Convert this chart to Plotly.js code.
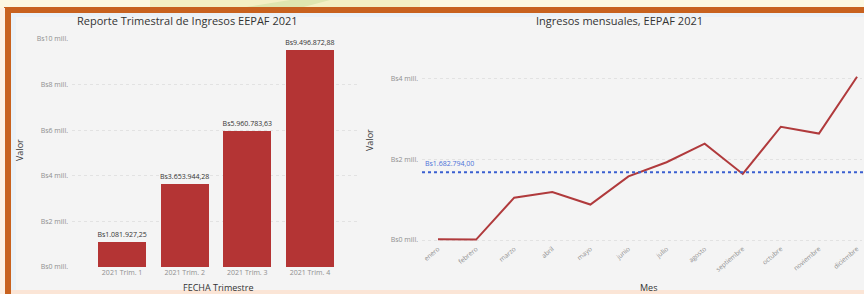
<!DOCTYPE html>
<html><head><meta charset="utf-8">
<script src="https://cdn.plot.ly/plotly-3.0.1.min.js"></script>
<style>html,body{margin:0;padding:0;background:#f4f4f4}#c{width:864px;height:294px}</style>
</head><body><div id="c"></div>
<script>
// ---- data ----
const quarters = ["2021 Trim. 1", "2021 Trim. 2", "2021 Trim. 3", "2021 Trim. 4"];
const quarterValues = [1081927.25, 3653944.28, 5960783.63, 9496872.88];
const quarterLabels = ["Bs1.081.927,25", "Bs3.653.944,28", "Bs5.960.783,63", "Bs9.496.872,88"];

const months = ["enero", "febrero", "marzo", "abril", "mayo", "junio", "julio", "agosto", "septiembre", "octubre", "noviembre", "diciembre"];
const monthValues = [20000, 10000, 1050000, 1190000, 880000, 1580000, 1930000, 2390000, 1640000, 2810000, 2640000, 4050000];

const averageValue = 1682794.00;
const averageLabel = "Bs1.682.794,00";

const leftTickVals = [0, 2000000, 4000000, 6000000, 8000000, 10000000];
const leftTickText = ["Bs0 mill.", "Bs2 mill.", "Bs4 mill.", "Bs6 mill.", "Bs8 mill.", "Bs10 mill."];
const rightTickVals = [0, 2000000, 4000000];
const rightTickText = ["Bs0 mill.", "Bs2 mill.", "Bs4 mill."];

// ---- layout helpers (pixel -> paper) ----
const W = 864, H = 294;
const px = v => v / W;
const py = v => 1 - v / H;

const FAM = "Open Sans, DejaVu Sans, sans-serif";
const tickFont = {family: FAM, size: 7, color: "#8f8f8f"};
const titleFont = {family: FAM, size: 11, color: "#333333"};
const axTitleFont = {family: FAM, size: 9, color: "#333333"};

const traces = [
  {
    type: "bar", x: quarters, y: quarterValues, xaxis: "x", yaxis: "y",
    marker: {color: "#b43434"}, width: 0.77,
    text: quarterLabels, textposition: "outside", constraintext: "none", cliponaxis: false,
    textfont: {family: FAM, size: 7, color: "#333333"},
    hoverinfo: "skip"
  },
  {
    type: "scatter", mode: "lines", x: months, y: monthValues, xaxis: "x2", yaxis: "y2",
    line: {color: "#b03a3c", width: 2}, hoverinfo: "skip"
  }
];

const layout = {
  width: W, height: H,
  margin: {l: 0, r: 0, t: 0, b: 0},
  paper_bgcolor: "#f4f4f4", plot_bgcolor: "rgba(0,0,0,0)",
  showlegend: false,
  bargap: 0,
  xaxis: {
    domain: [px(72), px(360)], range: [-0.8, 3.8], anchor: "y",
    showgrid: false, zeroline: false, showline: false,
    ticks: "", tickfont: tickFont, fixedrange: true
  },
  yaxis: {
    domain: [py(267), py(39)], range: [0, 10000000], anchor: "x",
    tickvals: leftTickVals, ticktext: leftTickText, tickfont: tickFont,
    showgrid: true, gridcolor: "#e2e2e2", griddash: "dot", gridwidth: 1,
    zeroline: false, showline: false, ticks: "", ticklabelstandoff: 3
  },
  xaxis2: {
    domain: [px(422), px(862)], range: [-0.42, 11.13], anchor: "y2",
    showgrid: false, zeroline: false, showline: false,
    ticks: "", tickangle: -40, tickfont: {family: FAM, size: 6.5, color: "#8f8f8f"}
  },
  yaxis2: {
    domain: [py(243), py(30)], range: [-74000, 5210000], anchor: "x2",
    tickvals: rightTickVals, ticktext: rightTickText, tickfont: tickFont,
    showgrid: true, gridcolor: "#e2e2e2", griddash: "dot", gridwidth: 1,
    zeroline: false, showline: false, ticks: "", ticklabelstandoff: 3
  },
  shapes: [
    // top decorative banner
    {type: "rect", xref: "paper", yref: "paper", x0: 0, x1: 1, y0: py(8), y1: 1, fillcolor: "#fcf8e2", line: {width: 0}, layer: "below"},
    {type: "rect", xref: "paper", yref: "paper", x0: px(150), x1: px(420), y0: py(8), y1: 1, fillcolor: "#f4f0c4", line: {width: 0}, layer: "below"},
    {type: "path", xref: "paper", yref: "paper", path: `M ${px(240)} ${py(8)} L ${px(290)} 1 L ${px(330)} 1 L ${px(300)} ${py(8)} Z`, fillcolor: "#dfe6b0", line: {width: 0}, layer: "below"},
    // orange frame
    {type: "rect", xref: "paper", yref: "paper", x0: px(4), x1: 1, y0: py(13), y1: py(7), fillcolor: "#c8621f", line: {width: 0}, layer: "below"},
    {type: "rect", xref: "paper", yref: "paper", x0: px(5), x1: px(11), y0: 0, y1: py(8), fillcolor: "#c8621f", line: {width: 0}, layer: "below"},
    {type: "rect", xref: "paper", yref: "paper", x0: 0, x1: px(5), y0: 0, y1: py(8), fillcolor: "#fdf0e4", line: {width: 0}, layer: "below"},
    // inner light strips
    {type: "rect", xref: "paper", yref: "paper", x0: px(11), x1: 1, y0: py(17), y1: py(13), fillcolor: "#eaf1f7", line: {width: 0}, layer: "below"},
    {type: "rect", xref: "paper", yref: "paper", x0: px(11), x1: px(16), y0: 0, y1: py(13), fillcolor: "#eaf1f7", line: {width: 0}, layer: "below"},
    {type: "rect", xref: "paper", yref: "paper", x0: px(11), x1: 1, y0: 0, y1: py(290), fillcolor: "#fbe5d6", line: {width: 0}, layer: "below"},
    // average reference line
    {type: "line", xref: "paper", yref: "y2", x0: px(422), x1: 1, y0: averageValue, y1: averageValue,
     line: {color: "#3a5fd0", width: 2, dash: "dot"}}
  ],
  annotations: [
    {xref: "paper", yref: "paper", x: px(187), y: py(21), text: "Reporte Trimestral de Ingresos EEPAF 2021", showarrow: false, font: titleFont, xanchor: "center", yanchor: "middle"},
    {xref: "paper", yref: "paper", x: px(619), y: py(21), text: "Ingresos mensuales, EEPAF 2021", showarrow: false, font: titleFont, xanchor: "center", yanchor: "middle"},
    {xref: "paper", yref: "paper", x: px(19), y: py(150), text: "Valor", textangle: -90, showarrow: false, font: axTitleFont, xanchor: "center", yanchor: "middle"},
    {xref: "paper", yref: "paper", x: px(218), y: py(287), text: "FECHA Trimestre", showarrow: false, font: axTitleFont, xanchor: "center", yanchor: "middle"},
    {xref: "paper", yref: "paper", x: px(369), y: py(140), text: "Valor", textangle: -90, showarrow: false, font: axTitleFont, xanchor: "center", yanchor: "middle"},
    {xref: "paper", yref: "paper", x: px(648), y: py(287), text: "Mes", showarrow: false, font: axTitleFont, xanchor: "center", yanchor: "middle"},
    {xref: "paper", yref: "y2", x: px(423), y: averageValue, yshift: 9, text: averageLabel, showarrow: false, xanchor: "left", yanchor: "middle",
     font: {family: FAM, size: 7, color: "#4a72d8"}}
  ]
};

Plotly.newPlot("c", traces, layout, {displayModeBar: false, staticPlot: true});
</script>
</body></html>
